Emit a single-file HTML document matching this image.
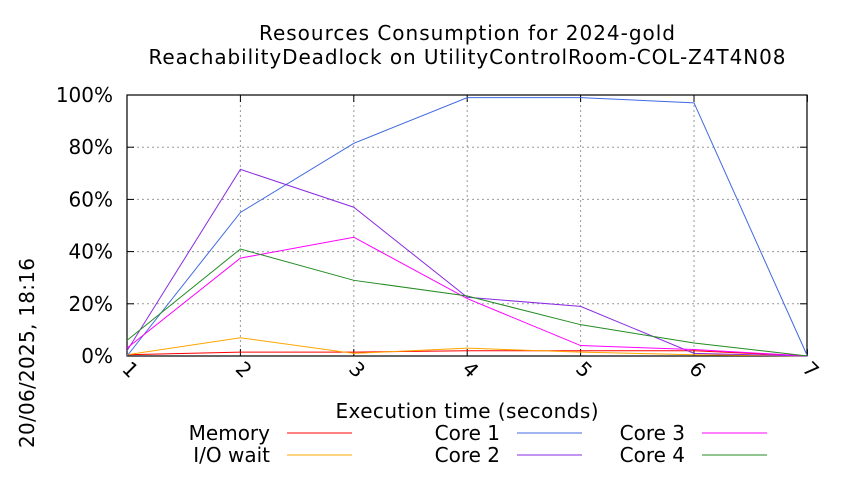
<!DOCTYPE html>
<html><head><meta charset="utf-8"><style>body{margin:0;background:#fff}svg{font-family:"DejaVu Sans","Liberation Sans",sans-serif}</style></head>
<body>
<svg width="850" height="475">
<g id="grid"></g><g id="axes"></g><g id="series"></g><g id="legend"></g>
<text x="467" y="40" text-anchor="middle" font-size="20" textLength="416">Resources Consumption for 2024-gold</text>
<text x="467" y="64" text-anchor="middle" font-size="20" textLength="637">ReachabilityDeadlock on UtilityControlRoom-COL-Z4T4N08</text>
<text x="467" y="418" text-anchor="middle" font-size="20" textLength="263">Execution time (seconds)</text>
<text transform="translate(34,448) rotate(-90)" font-size="20" textLength="190">20/06/2025, 18:16</text>
</svg>
<script>
const xs=[1,2,3,4,5,6,7];
const yTicks=[0,20,40,60,80,100];
const memory=[0.5,1.5,1.5,2,2,2,0];
const iowait=[0.5,7,1,3,1.5,0.5,0];
const core1=[0,55,81.5,99,99,97,0];
const core2=[2,71.5,57,22.5,19,1,0];
const core3=[3,37.5,45.5,22,4,2.5,0];
const core4=[6,41,29,23,12,5,0];
const NS='http://www.w3.org/2000/svg';
const X=v=>127+(v-1)*113.4, Y=v=>356-v*2.61;
function mk(t,a,p){const e=document.createElementNS(NS,t);for(const k in a)e.setAttribute(k,a[k]);p.appendChild(e);return e;}
const grid=document.getElementById('grid'),axes=document.getElementById('axes'),ser=document.getElementById('series'),leg=document.getElementById('legend');
yTicks.forEach(t=>{
 if(t>0){const g=mk('line',{x1:127,x2:807,y1:Y(t),y2:Y(t),stroke:'#999','stroke-dasharray':'2,3'},grid);
 
 }
 const l=mk('text',{x:113,y:Y(t)+7,'text-anchor':'end','font-size':20},axes);l.textContent=t+'%';
 
 
 mk('line',{x1:127,x2:134,y1:Y(t),y2:Y(t),stroke:'#000'},axes);
 mk('line',{x1:800,x2:807,y1:Y(t),y2:Y(t),stroke:'#000'},axes);
});
xs.forEach(v=>{
 if(v>1&&v<7){const g=mk('line',{x1:X(v),x2:X(v),y1:95,y2:356,stroke:'#999','stroke-dasharray':'2,3'},grid);
 
 }
 mk('line',{x1:X(v),x2:X(v),y1:356,y2:349,stroke:'#000'},axes);
 mk('line',{x1:X(v),x2:X(v),y1:95,y2:102,stroke:'#000'},axes);
 const l=mk('text',{'font-size':20,transform:`translate(${X(v)-6},${370}) rotate(45)`},axes);l.textContent=v;
 
 
});
const fr=mk('rect',{x:127,y:95,width:680,height:261,fill:'none',stroke:'#000','stroke-width':1.2},axes);


const S=[['Memory',memory,'#ff0000',0,0],['I/O wait',iowait,'#ffa500',0,1],['Core 1',core1,'#4169e1',1,0],['Core 2',core2,'#8a2be2',1,1],['Core 3',core3,'#ff00ff',2,0],['Core 4',core4,'#228b22',2,1]];
S.forEach(([n,d,c,col,row])=>{
 const p=mk('polyline',{points:d.map((v,i)=>X(xs[i])+','+Y(v)).join(' '),fill:'none',stroke:c,'stroke-width':1},ser);
 
 
 const lx=[270,500,685][col], ly=[433,455][row];
 const g=mk('g',{},leg);
 
 
 const t=mk('text',{x:lx,y:ly+7,'text-anchor':'end','font-size':20},g);t.textContent=n;
 mk('line',{x1:lx+17,x2:lx+82,y1:ly,y2:ly,stroke:c},g);
});
</script>
</body></html>
